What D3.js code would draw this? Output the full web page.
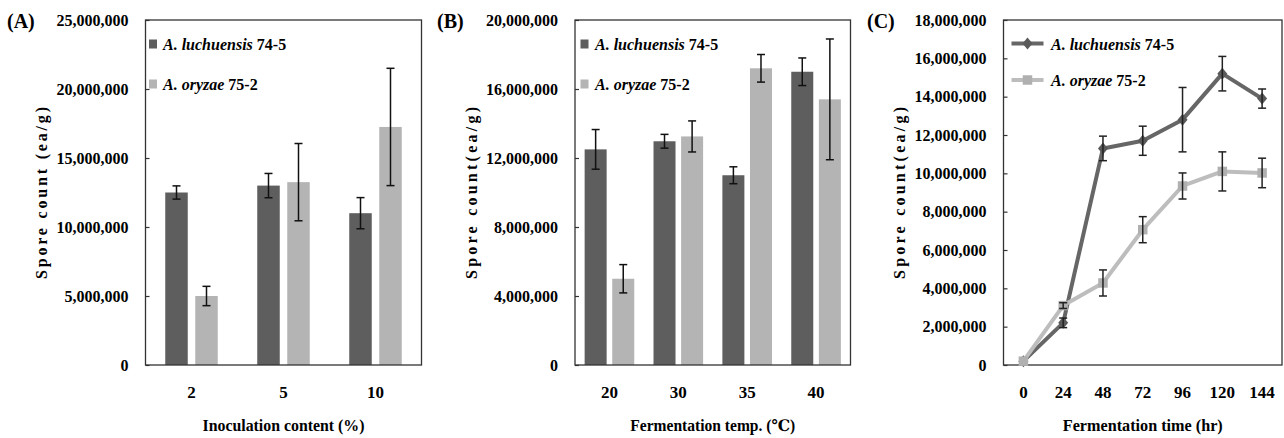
<!DOCTYPE html>
<html>
<head>
<meta charset="utf-8">
<script src="https://cdn.jsdelivr.net/npm/d3@7"></script>
<style>
  html, body { margin: 0; padding: 0; background: #fff; }
  svg { display: block; }
  text { font-family: "Liberation Serif", "DejaVu Serif", serif; fill: #000; }
</style>
</head>
<body>
<svg id="chart" width="1284" height="438"></svg>
<script>
// ---------- DATA ----------
const seriesNames = ["A. luchuensis", "A. oryzae"];
const seriesStrains = ["74-5", "75-2"];

// Panel A: inoculation content (%)
const inocCategories = ["2", "5", "10"];
const inocLuchuensis = [12500000, 13000000, 11000000];
const inocLuchuensisErr = [480000, 880000, 1130000];
const inocOryzae = [5000000, 13250000, 17250000];
const inocOryzaeErr = [700000, 2800000, 4250000];
const inocTicks = [0, 5000000, 10000000, 15000000, 20000000, 25000000];

// Panel B: fermentation temperature (°C)
const tempCategories = ["20", "30", "35", "40"];
const tempLuchuensis = [12500000, 12970000, 11000000, 17000000];
const tempLuchuensisErr = [1150000, 400000, 490000, 800000];
const tempOryzae = [5000000, 13250000, 17200000, 15400000];
const tempOryzaeErr = [820000, 900000, 800000, 3500000];
const tempTicks = [0, 4000000, 8000000, 12000000, 16000000, 20000000];

// Panel C: fermentation time (hr)
const timeCategories = ["0", "24", "48", "72", "96", "120", "144"];
const timeLuchuensis = [200000, 2200000, 11300000, 11700000, 12800000, 15200000, 13900000];
const timeLuchuensisErr = [0, 250000, 640000, 760000, 1680000, 900000, 500000];
const timeOryzae = [200000, 3100000, 4280000, 7060000, 9340000, 10100000, 10020000];
const timeOryzaeErr = [0, 150000, 680000, 680000, 680000, 1020000, 770000];
const timeTicks = [0, 2000000, 4000000, 6000000, 8000000, 10000000, 12000000, 14000000, 16000000, 18000000];

// ---------- STYLE ----------
const DARK = "#5e5e5e", LIGHT = "#b4b4b4";
const LINE_DARK = "#666666", LINE_LIGHT = "#bdbdbd";
const FRAME = "#333333";
const TOP = 20, BOTTOM = 365;

const svg = d3.select("#chart");
const fmt = d3.format(",");

function frameAndAxes(g, x0, x1, y, ticks, xScale, xTitle, yTitle, yTitleX, panelLabel, panelX, xTitleLen) {
  // y axis
  const ya = g.append("g").attr("transform", `translate(${x0},0)`)
    .call(d3.axisLeft(y).tickValues(ticks).tickFormat(fmt).tickSizeInner(-4).tickSizeOuter(0).tickPadding(17));
  ya.select(".domain").remove();
  ya.selectAll(".tick line").attr("stroke", FRAME).attr("stroke-width", 1.2);
  ya.selectAll(".tick text").attr("font-size", 16).attr("font-weight", "bold").attr("font-family", "Liberation Serif");
  // x axis
  const xa = g.append("g").attr("transform", `translate(0,${BOTTOM})`)
    .call(d3.axisBottom(xScale).tickSize(0).tickPadding(21));
  xa.select(".domain").remove();
  xa.selectAll(".tick text").attr("font-size", 17).attr("font-weight", "bold").attr("font-family", "Liberation Serif");
  // frame
  g.append("rect").attr("x", x0).attr("y", TOP).attr("width", x1 - x0).attr("height", BOTTOM - TOP)
    .attr("fill", "none").attr("stroke", FRAME).attr("stroke-width", 1.3);
  // titles
  g.append("text").attr("x", (x0 + x1) / 2).attr("y", 431).attr("text-anchor", "middle")
    .attr("font-size", 16).attr("font-weight", "bold")
    .attr("textLength", xTitleLen).attr("lengthAdjust", "spacingAndGlyphs").text(xTitle);
  g.append("text").attr("transform", `translate(${yTitleX},193) rotate(-90)`).attr("text-anchor", "middle")
    .attr("font-size", 16).attr("font-weight", "bold")
    .attr("textLength", 172).attr("lengthAdjust", "spacing").text(yTitle);
  g.append("text").attr("x", panelX).attr("y", 28).attr("font-size", 20).attr("font-weight", "bold").text(panelLabel);
}

function legendText(g, x, y, name, strain) {
  const t = g.append("text").attr("x", x).attr("y", y).attr("font-size", 16).attr("font-weight", "bold");
  t.append("tspan").attr("font-style", "italic").text(name + " ");
  t.append("tspan").text(strain);
}

function errorBars(g, data, errs, xc, y, capW, color, sw) {
  const eb = g.append("g");
  data.forEach((v, i) => {
    const e = errs[i];
    if (!e) return;
    const cx = xc(i);
    eb.append("line").attr("x1", cx).attr("x2", cx).attr("y1", y(v + e)).attr("y2", y(v - e))
      .attr("stroke", color).attr("stroke-width", sw);
    [v + e, v - e].forEach(val => {
      eb.append("line").attr("x1", cx - capW / 2).attr("x2", cx + capW / 2).attr("y1", y(val)).attr("y2", y(val))
        .attr("stroke", color).attr("stroke-width", sw);
    });
  });
}

function barPanel(cfg) {
  const g = svg.append("g");
  const y = d3.scaleLinear().domain([0, cfg.ticks[cfg.ticks.length - 1]]).range([BOTTOM, TOP]);
  const x = d3.scaleBand().domain(cfg.categories).range([cfg.x0, cfg.x1]).paddingInner(0).paddingOuter(0);
  const w = cfg.barW, gap = cfg.gap;
  const xs = d3.scaleBand().domain([0, 1]).range([-(w + gap / 2), w + gap / 2]).paddingInner(gap / (w + gap)).paddingOuter(0);
  const series = [cfg.s1, cfg.s2], errs = [cfg.e1, cfg.e2], colors = [DARK, LIGHT];
  series.forEach((vals, si) => {
    g.append("g").selectAll("rect").data(vals).join("rect")
      .attr("x", (d, i) => x(cfg.categories[i]) + x.bandwidth() / 2 + xs(si))
      .attr("width", xs.bandwidth())
      .attr("y", d => y(d)).attr("height", d => BOTTOM - y(d))
      .attr("fill", colors[si]);
  });
  series.forEach((vals, si) => {
    errorBars(g, vals, errs[si], i => x(cfg.categories[i]) + x.bandwidth() / 2 + xs(si) + xs.bandwidth() / 2,
      y, 8, "#111", 1.5);
  });
  frameAndAxes(g, cfg.x0, cfg.x1, y, cfg.ticks, x, cfg.xTitle, cfg.yTitle, cfg.yTitleX, cfg.label, cfg.labelX, cfg.xTitleLen);
  // legend
  const lx = cfg.x0 + cfg.legDx;
  [44, 84].forEach((ly, i) => {
    g.append("rect").attr("x", lx).attr("y", ly - 4.5).attr("width", 8).attr("height", 9).attr("fill", colors[i]);
    legendText(g, lx + cfg.legTextDx, ly + 6, seriesNames[i], seriesStrains[i]);
  });
}

barPanel({
  categories: inocCategories, s1: inocLuchuensis, e1: inocLuchuensisErr, s2: inocOryzae, e2: inocOryzaeErr,
  ticks: inocTicks, x0: 145.5, x1: 421.5, barW: 22.5, gap: 7.5,
  xTitle: "Inoculation content (%)", xTitleLen: 162, yTitle: "Spore count (ea/g)", yTitleX: 47,
  label: "(A)", labelX: 7, legDx: 3.5, legTextDx: 14
});

barPanel({
  categories: tempCategories, s1: tempLuchuensis, e1: tempLuchuensisErr, s2: tempOryzae, e2: tempOryzaeErr,
  ticks: tempTicks, x0: 575, x1: 850.5, barW: 22, gap: 5.6,
  xTitle: "Fermentation temp. (℃)", xTitleLen: 165, yTitle: "Spore count(ea/g)", yTitleX: 477,
  label: "(B)", labelX: 437, legDx: 5.5, legTextDx: 14.5
});

// Panel C: line chart
(function () {
  const g = svg.append("g");
  const x0 = 1003.5, x1 = 1282;
  const y = d3.scaleLinear().domain([0, timeTicks[timeTicks.length - 1]]).range([BOTTOM, TOP]);
  const x = d3.scaleBand().domain(timeCategories).range([x0, x1]).paddingInner(0).paddingOuter(0);
  const xc = i => x(timeCategories[i]) + x.bandwidth() / 2;
  frameAndAxes(g, x0, x1, y, timeTicks, x, "Fermentation time (hr)", "Spore count(ea/g)", 905, "(C)", 867, 160);

  const diamond = { draw(ctx, size) { const h = Math.sqrt(size) * 0.6, w = Math.sqrt(size) * 0.5;
    ctx.moveTo(0, -h); ctx.lineTo(w, 0); ctx.lineTo(0, h); ctx.lineTo(-w, 0); ctx.closePath(); } };
  const series = [
    { vals: timeLuchuensis, errs: timeLuchuensisErr, line: LINE_DARK, mark: "#5a5a5a", sym: diamond, size: 100 },
    { vals: timeOryzae, errs: timeOryzaeErr, line: LINE_LIGHT, mark: "#b0b0b0", sym: d3.symbolSquare, size: 90 }
  ];
  series.forEach(s => {
    g.append("path").datum(s.vals)
      .attr("d", d3.line().x((d, i) => xc(i)).y(d => y(d)))
      .attr("fill", "none").attr("stroke", s.line).attr("stroke-width", 4).attr("stroke-linejoin", "round");
    g.append("g").selectAll("path").data(s.vals).join("path")
      .attr("transform", (d, i) => `translate(${xc(i)},${y(d)})`)
      .attr("d", d3.symbol().type(s.sym).size(s.size)).attr("fill", s.mark);
    errorBars(g, s.vals, s.errs, xc, y, 8, "#222", 1.5);
  });
  // legend
  const legY = [43.5, 80];
  series.forEach((s, i) => {
    g.append("line").attr("x1", 1011.5).attr("x2", 1043.5).attr("y1", legY[i]).attr("y2", legY[i])
      .attr("stroke", s.line).attr("stroke-width", 4);
    g.append("path").attr("transform", `translate(1027.5,${legY[i]})`)
      .attr("d", d3.symbol().type(s.sym).size(s.size)).attr("fill", s.mark);
    legendText(g, 1051, legY[i] + 6, seriesNames[i], seriesStrains[i]);
  });
})();
</script>
</body>
</html>
